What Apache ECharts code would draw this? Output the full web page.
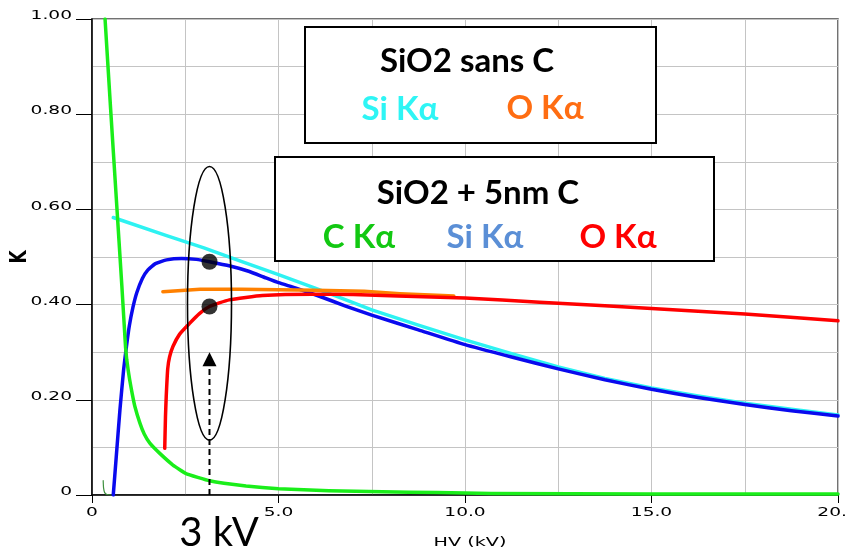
<!DOCTYPE html>
<html>
<head>
<meta charset="utf-8">
<script src="https://cdn.jsdelivr.net/npm/echarts@6/dist/echarts.min.js"></script>
<style>
  html, body { margin: 0; padding: 0; background: #fff; }
  #chart { width: 846px; height: 553px; }
</style>
</head>
<body>
<div id="chart"></div>
<script>
// k-ratio versus accelerating voltage HV (kV), pairs of [kV, k]

// SiO2 + 5 nm C coating
const cKaCoated = [[0.35,1.0],[0.5,0.81],[0.65,0.625],[0.8,0.44],[0.9,0.31],[0.93,0.285],[0.97,0.262],[1.01,0.242],[1.08,0.212],[1.15,0.186],[1.28,0.152],[1.4,0.128],[1.55,0.109],[1.81,0.088],[2.17,0.063],[2.52,0.045],[3.15,0.03],[4.13,0.019],[5.0,0.013],[6.35,0.009],[8.5,0.006],[10,0.004],[10.7,0.003],[15,0.002],[20,0.002]];
const siKaCoated = [[0.57,0],[0.65,0.08],[0.75,0.18],[0.85,0.265],[0.92,0.31],[1.0,0.355],[1.1,0.395],[1.2,0.425],[1.35,0.455],[1.5,0.473],[1.7,0.486],[2.0,0.494],[2.4,0.497],[2.8,0.495],[3.15,0.49],[3.7,0.481],[4.2,0.47],[4.6,0.458],[5.0,0.446],[5.45,0.435],[6.15,0.416],[6.8,0.397],[7.5,0.378],[8.75,0.347],[10,0.316],[11.25,0.29],[12.5,0.265],[13.75,0.242],[15,0.222],[16.25,0.205],[17.5,0.19],[18.75,0.177],[20,0.166]];
const oKaCoated = [[1.95,0.098],[1.97,0.165],[1.99,0.207],[2.03,0.265],[2.08,0.29],[2.17,0.312],[2.35,0.338],[2.61,0.36],[2.88,0.381],[3.15,0.396],[3.68,0.41],[4.57,0.419],[5.9,0.422],[7,0.421],[8.2,0.418],[10,0.414],[12,0.405],[12.5,0.403],[15,0.392],[17.5,0.38],[20,0.366]];

// bare SiO2
const cKaBare = [[0.30,0.03],[0.31,0.015],[0.34,0.005],[0.4,0.001],[0.52,0]];
const siKaBare = [[0.57,0.583],[2,0.545],[3,0.519],[4,0.491],[5,0.463],[6,0.434],[7,0.404],[7.5,0.389],[8.75,0.357],[10,0.326],[11.25,0.297],[12.5,0.269],[13.75,0.245],[15,0.225],[16.25,0.208],[17.5,0.193],[18.75,0.18],[20,0.168]];
const oKaBare = [[1.9,0.427],[2.5,0.43],[2.9,0.432],[4,0.432],[5,0.431],[6,0.43],[7.3,0.428],[8.26,0.423],[9.4,0.419],[9.7,0.418]];

// readings at 3 kV on the coated Si and O curves
const markedPoints = [[3.15,0.49],[3.15,0.396]];

// axis ticks
const xTicks = [0, 5, 10, 15, 20];
const xTickLabels = ['0', '5.0', '10.0', '15.0', '20.0'];
const yTicks = [0, 0.2, 0.4, 0.6, 0.8, 1.0];
const yTickLabels = ['0', '0.20', '0.40', '0.60', '0.80', '1.00'];

const chart = echarts.init(document.getElementById('chart'), null, { renderer: 'canvas' });

const gridColor = '#c4c4c4';
function line(data, color, width, z, smooth) {
  return {
    type: 'line', data: data, symbol: 'none', smooth: smooth,
    lineStyle: { color: color, width: width, cap: 'round', join: 'round' }, z: z, animation: false
  };
}

chart.setOption({
  animation: false,
  backgroundColor: '#fff',
  grid: { left: 92, right: 8, top: 19, bottom: 58, show: true, borderColor: '#444', borderWidth: 1.5 },
  xAxis: {
    type: 'value', min: 0, max: 20, interval: 5,
    axisLine: { onZero: false, lineStyle: { color: '#000', width: 1.5 } },
    axisTick: { show: true, length: 8, lineStyle: { color: '#000' } },
    axisLabel: { show: false },
    splitLine: { show: true, lineStyle: { color: gridColor, width: 1 } },
    minorTick: { show: false, splitNumber: 2 },
    minorSplitLine: { show: true, lineStyle: { color: gridColor, width: 1 } }
  },
  yAxis: {
    type: 'value', min: 0, max: 1, interval: 0.2,
    axisLine: { show: true, lineStyle: { color: '#000', width: 1.5 } },
    axisTick: { show: true, length: 16, lineStyle: { color: '#000' } },
    axisLabel: { show: false },
    splitLine: { show: true, lineStyle: { color: gridColor, width: 1 } },
    minorTick: { show: false, splitNumber: 2 },
    minorSplitLine: { show: true, lineStyle: { color: gridColor, width: 1 } }
  },
  series: [
    line(cKaBare, '#3d8f3d', 1.2, 2, 0.2),
    line(siKaBare, '#2ef2f2', 3.5, 3, false),
    line(siKaCoated, '#0a0aee', 3.5, 4, 0.15),
    line(oKaBare, '#ff8000', 3.5, 5, false),
    line(oKaCoated, '#ff0000', 3.5, 6, 0.15),
    line(cKaCoated, '#1aee1a', 3.5, 7, 0.1),
    {
      type: 'scatter', data: markedPoints, symbol: 'circle', symbolSize: 16,
      itemStyle: { color: '#000' }, z: 20, animation: false
    }
  ]
});

const px = p => chart.convertToPixel({ gridIndex: 0 }, p);
const graphics = [];

// tick labels (horizontally stretched type)
const tickFont = '12px "DejaVu Sans", sans-serif';
const tickColor = '#000';
yTicks.forEach((v, i) => {
  const p = px([0, v]);
  graphics.push({
    type: 'text', x: p[0] - 20, y: p[1] - 3, scaleX: 1.55, z: 10,
    style: { text: yTickLabels[i], font: tickFont, fill: tickColor, align: 'right', verticalAlign: 'middle', textAlign: 'right', textVerticalAlign: 'middle' }
  });
});
xTicks.forEach((v, i) => {
  const p = px([v, 0]);
  graphics.push({
    type: 'text', x: p[0], y: p[1] + 18, scaleX: 1.55, z: 10,
    style: { text: xTickLabels[i], font: tickFont, fill: tickColor, align: 'center', verticalAlign: 'middle', textAlign: 'center', textVerticalAlign: 'middle' }
  });
});

// axis titles
const xMid = px([10, 0]);
graphics.push({
  type: 'text', x: xMid[0] + 5, y: 543, scaleX: 1.6, z: 10,
  style: { text: 'HV (kV)', font: '12px "DejaVu Sans", sans-serif', fill: tickColor, align: 'center', verticalAlign: 'middle', textAlign: 'center', textVerticalAlign: 'middle' }
});
const yMid = px([0, 0.5]);
graphics.push({
  type: 'text', x: 20, y: yMid[1], rotation: Math.PI / 2, scaleY: 1.4, z: 10,
  style: { text: 'K', font: 'bold 17px "DejaVu Sans", sans-serif', fill: tickColor, align: 'center', verticalAlign: 'middle', textAlign: 'center', textVerticalAlign: 'middle' }
});

// legend panels
const legendFont = 'bold 33px Lato, "Open Sans", sans-serif';
function label(text, x, y, color, font) {
  return {
    type: 'text', x: x, y: y, z: 61,
    style: { text: text, font: font || legendFont, fill: color, align: 'center', verticalAlign: 'middle', textAlign: 'center', textVerticalAlign: 'middle' }
  };
}
graphics.push({
  type: 'rect', shape: { x: 305, y: 27, width: 351, height: 116 }, z: 60,
  style: { fill: '#fff', stroke: '#000', lineWidth: 2 }
});
graphics.push(label('SiO2 sans C', 467, 61, '#000'));
graphics.push(label('Si K\u03b1', 400, 109, '#2ef5f5'));
graphics.push(label('O K\u03b1', 545, 108, '#ff6d12'));

graphics.push({
  type: 'rect', shape: { x: 275, y: 157, width: 439, height: 104 }, z: 60,
  style: { fill: '#fff', stroke: '#000', lineWidth: 2 }
});
graphics.push(label('SiO2 + 5nm C', 478, 193, '#000'));
graphics.push(label('C K\u03b1', 359, 237, '#12c812'));
graphics.push(label('Si K\u03b1', 485, 237, '#5b8fd6'));
graphics.push(label('O K\u03b1', 618, 237, '#ff0000'));

// 3 kV annotation: ring around the readings and a dashed arrow from the axis
const e1 = px([2.56, 0.69]);
const e2 = px([3.74, 0.115]);
graphics.push({
  type: 'ellipse', z: 30,
  shape: { cx: (e1[0] + e2[0]) / 2, cy: (e1[1] + e2[1]) / 2, rx: Math.abs(e2[0] - e1[0]) / 2, ry: Math.abs(e2[1] - e1[1]) / 2 },
  style: { fill: 'none', stroke: '#000', lineWidth: 1.6 }
});
const aBase = px([3.15, 0]);
const aTip = px([3.15, 0.30]);
graphics.push({
  type: 'line', z: 30,
  shape: { x1: aBase[0], y1: aBase[1], x2: aTip[0], y2: aTip[1] + 13 },
  style: { stroke: '#000', lineWidth: 2, lineDash: [6, 4] }
});
graphics.push({
  type: 'polygon', z: 30,
  shape: { points: [[aTip[0], aTip[1]], [aTip[0] - 7, aTip[1] + 14], [aTip[0] + 7, aTip[1] + 14]] },
  style: { fill: '#000' }
});
graphics.push(label('3 kV', 219, 533, '#000', '40px Lato, "Open Sans", sans-serif'));

chart.setOption({ graphic: graphics });
</script>
</body>
</html>
